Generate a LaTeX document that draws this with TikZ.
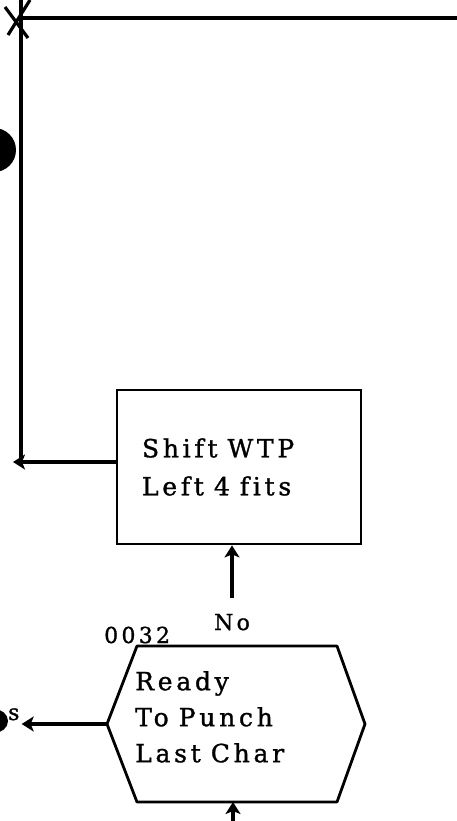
\documentclass[tikz,border=0pt]{standalone}
\usepackage{fontspec}
\setmainfont{DejaVu Serif}[LetterSpace=15, FakeBold=1.2, Ligatures=NoCommon]
\usetikzlibrary{positioning, arrows.meta}
\newcommand\wsp{\hspace{10pt}}

\begin{document}
\begin{tikzpicture}[x=1pt, y=-1pt,
  flow/.style={line width=3.2pt},
  tip/.style={-{Stealth[length=12pt,width=15pt,inset=3pt]}},
  procbox/.style={draw, line width=2.8pt, minimum width=244pt, minimum height=154pt,
     text width=194pt, inner xsep=25pt, align=left,
     font=\fontsize{25}{38}\selectfont},
  hextext/.style={inner sep=0pt, text width=215pt, align=left,
     font=\fontsize{25}{36}\selectfont},
  lbl/.style={inner sep=0pt, font=\fontsize{22}{26}\selectfont}]
  \useasboundingbox (0,0) rectangle (457,821);
  \clip (0,0) rectangle (457,821);
  % loop back line
  \coordinate (topj) at (21,18);
  \coordinate (topr) at (457,18);
  \coordinate (lend) at (13,462);
  \draw[flow] (21,0) -- (21,462);
  \draw[flow] (topj) -- (topr);
  \draw[flow] (5,7) -- (28,38);
  \draw[flow] (30,0) -- (8,35);
  \fill (-6,150) circle (22);
  % process box
  \node[procbox] (shift) at (239,467) {Shift\wsp WTP\\Left\wsp 4\wsp f{}its};
  \draw[flow,tip] (lend -| shift.west) -- (lend);
  % decision
  \coordinate (hexL) at (107,724);
  \coordinate (hexB) at (233,802);
  \coordinate (feed) at (233,821);
  \draw[flow, line width=2.8pt, line join=round] (137,646) -- (337,646) -- (365,724)
     -- (337,802) -- (137,802) -- (hexL) -- cycle;
  \node[hextext, anchor=north west] (ready) at (135,671)
     {Ready\\To\wsp Punch\\Last\wsp Char};
  \node[lbl, anchor=base west, font=\fontsize{22}{24}\selectfont] (addr) at (104,643) {0032};
  \node[lbl, anchor=base, inner ysep=16pt] (no) at (232,630) {No};
  \draw[flow,tip] (no.north) -- (no.north |- shift.south);
  \draw[flow,tip] (feed) -- (hexB);
  % yes exit
  \fill (-6,721) ellipse (14 and 12);
  \node[lbl, anchor=base west] (yes) at (8,720) {s};
  \draw[flow,tip] (hexL) -- ([xshift=2pt]yes.east |- hexL);
\end{tikzpicture}
\end{document}
